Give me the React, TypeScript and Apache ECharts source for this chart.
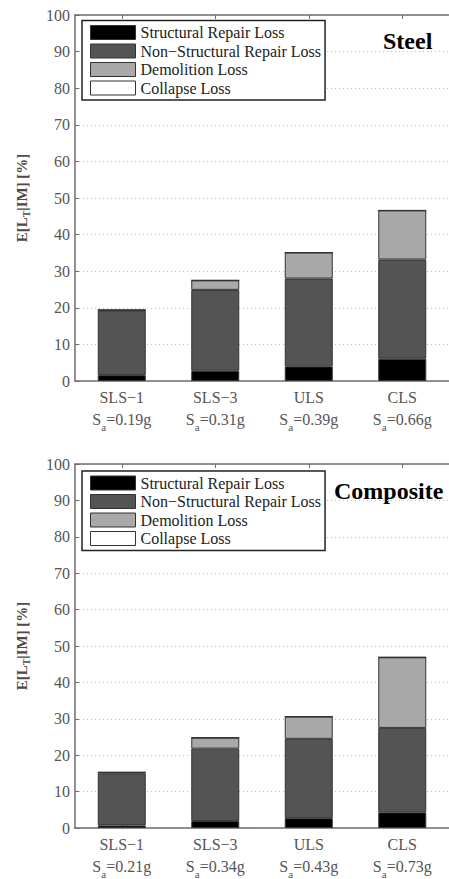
import React, { useEffect, useRef } from "react";
import * as echarts from "echarts";

const categories = ["SLS−1", "SLS−3", "ULS", "CLS"];
const steelSa = ["0.19", "0.31", "0.39", "0.66"];
const compositeSa = ["0.21", "0.34", "0.43", "0.73"];

const seriesNames = [
  "Structural Repair Loss",
  "Non−Structural Repair Loss",
  "Demolition Loss",
  "Collapse Loss",
];

const steelStructural = [1.6, 2.8, 4.0, 6.1];
const steelNonStructural = [17.6, 22.1, 24.0, 27.1];
const steelDemolition = [0.2, 2.6, 7.1, 13.4];
const steelCollapse = [0, 0, 0, 0];

const compStructural = [0.7, 1.9, 2.7, 4.3];
const compNonStructural = [14.3, 19.9, 21.8, 23.2];
const compDemolition = [0.3, 3.0, 6.1, 19.4];
const compCollapse = [0, 0, 0, 0];

const panelTitles = ["Steel", "Composite"];
const yName = "{a|E[L}{sub|T}{a||IM] [%]}";

const colors = ["#000000", "#545454", "#a9a9a9", "#ffffff"];
const FONT = "'Liberation Serif', 'DejaVu Serif', serif";
const AXIS_COLOR = "#6e6e6e";
const LABEL_COLOR = "#555555";

export default function App() {
  const ref = useRef<HTMLDivElement>(null);

  useEffect(() => {
    if (!ref.current) return;
    const chart = echarts.init(ref.current, undefined, { renderer: "svg" });

    const grids = [
      { left: 75, top: 15, width: 380, height: 366 },
      { left: 75, top: 464, width: 380, height: 368 },
    ];
    const saLists = [steelSa, compositeSa];
    const dataSets = [
      [steelStructural, steelNonStructural, steelDemolition, steelCollapse],
      [compStructural, compNonStructural, compDemolition, compCollapse],
    ];

    const xAxes: any[] = [];
    const yAxes: any[] = [];
    const series: any[] = [];
    const legends: any[] = [];
    const graphics: any[] = [];

    grids.forEach((g, gi) => {
      const sa = saLists[gi];
      xAxes.push({
        type: "category",
        gridIndex: gi,
        position: "bottom",
        data: categories,
        axisLine: { show: true, lineStyle: { color: AXIS_COLOR, width: 1.5 } },
        axisTick: { show: true, inside: true, alignWithLabel: true, length: 4, lineStyle: { color: AXIS_COLOR } },
        splitLine: { show: false },
        axisLabel: {
          margin: 5,
          interval: 0,
          formatter: (v: string, i: number) => `{n|${v}}\n{s|S}{sub|a}{s|=${sa[i]}g}`,
          rich: {
            n: { fontFamily: FONT, fontSize: 16, color: LABEL_COLOR, lineHeight: 22 },
            s: { fontFamily: FONT, fontSize: 16, color: LABEL_COLOR, lineHeight: 22 },
            sub: { fontFamily: FONT, fontSize: 11, color: LABEL_COLOR, lineHeight: 12, padding: [15, 0, 0, 0] },
          },
        },
      });
      xAxes.push({
        type: "category",
        gridIndex: gi,
        position: "top",
        data: categories,
        axisLine: { show: true, lineStyle: { color: AXIS_COLOR, width: 1.5 } },
        axisTick: { show: true, inside: true, alignWithLabel: true, length: 4, lineStyle: { color: AXIS_COLOR } },
        axisLabel: { show: false },
        splitLine: { show: false },
      });
      yAxes.push({
        type: "value",
        gridIndex: gi,
        min: 0,
        max: 100,
        interval: 10,
        name: yName,
        nameLocation: "middle",
        nameGap: 44,
        nameRotate: 90,
        nameTextStyle: {
          rich: {
            a: { fontFamily: FONT, fontSize: 15, fontWeight: "bold", color: "#4a4a4a" },
            sub: { fontFamily: FONT, fontSize: 10, fontWeight: "bold", color: "#4a4a4a", padding: [9, 0, 0, 0] },
          },
        },
        axisLine: { show: true, lineStyle: { color: AXIS_COLOR, width: 1.5 } },
        axisTick: { show: true, inside: true, length: 4, lineStyle: { color: AXIS_COLOR } },
        axisLabel: { fontFamily: FONT, fontSize: 16, color: LABEL_COLOR, margin: 5 },
        splitLine: { show: true, lineStyle: { color: "#bdbdbd", type: [1, 3], width: 1 } },
      });
      dataSets[gi].forEach((d, si) => {
        series.push({
          type: "bar",
          name: seriesNames[si],
          xAxisIndex: gi * 2,
          yAxisIndex: gi,
          stack: "s" + gi,
          barWidth: 48,
          data: d,
          itemStyle: { color: colors[si], borderColor: "#333", borderWidth: 1 },
        });
      });
      legends.push({
        orient: "vertical",
        left: 82,
        top: gi === 0 ? 20.5 : 471,
        padding: [4, 4, 4, 8],
        itemWidth: 45,
        itemHeight: 14,
        itemGap: 2.5,
        icon: "rect",
        backgroundColor: "#ffffff",
        borderColor: "#222",
        borderWidth: 1.5,
        borderRadius: 0,
        selectedMode: false,
        data: seriesNames,
        itemStyle: { borderColor: "#333", borderWidth: 1 },
        textStyle: { fontFamily: FONT, fontSize: 16, color: "#222", lineHeight: 16 },
      });
      graphics.push({
        type: "text",
        left: gi === 0 ? 383 : 334,
        top: gi === 0 ? 29 : 479,
        style: {
          text: panelTitles[gi],
          font: `bold 24px ${FONT}`,
          fill: "#000",
        },
      });
    });

    chart.setOption({
      animation: false,
      backgroundColor: "#ffffff",
      grid: grids,
      xAxis: xAxes,
      yAxis: yAxes,
      series,
      legend: legends,
      graphic: graphics,
    });

    return () => chart.dispose();
  }, []);

  return (
    <div
      ref={ref}
      style={{ position: "absolute", left: 0, top: 0, width: 449, height: 879, background: "#fff" }}
    />
  );
}
